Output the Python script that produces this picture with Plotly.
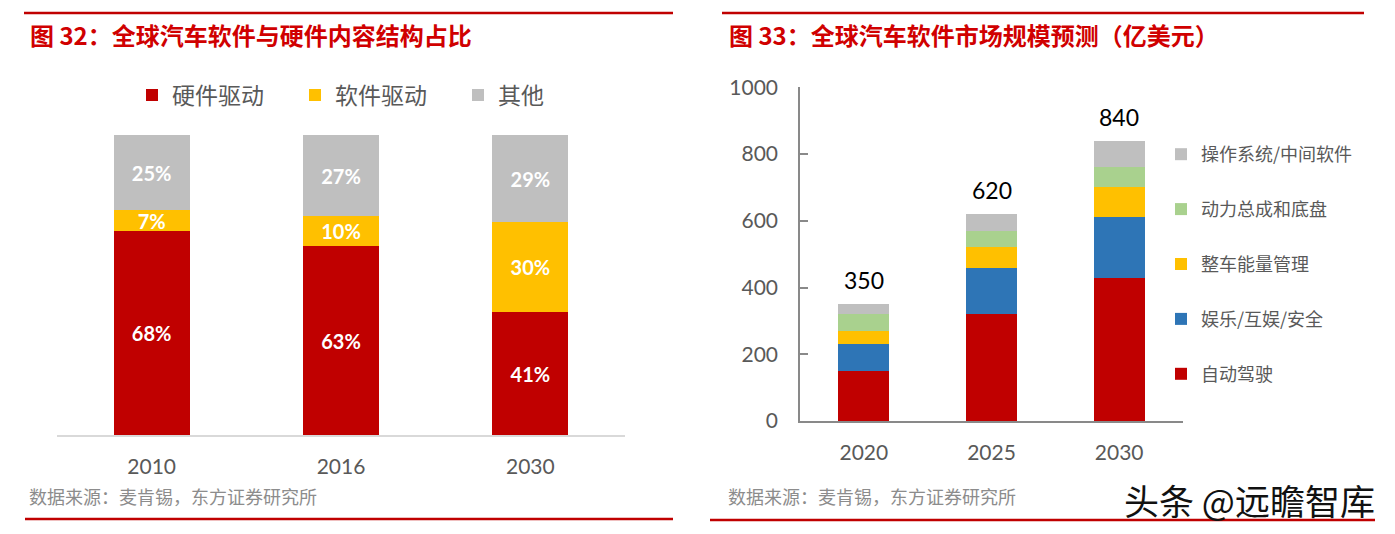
import plotly.graph_objects as go

W, H = 1395, 534

# ---------------- data ----------------
left_years = ["2010", "2016", "2030"]
hw_driven = [68, 63, 41]
sw_driven = [7, 10, 30]
others = [25, 27, 29]
left_names = ["硬件驱动", "软件驱动", "其他"]

right_years = ["2020", "2025", "2030"]
autonomous = [150, 320, 430]
infotainment = [80, 140, 180]
energy_mgmt = [40, 60, 90]
powertrain = [50, 50, 60]
os_middleware = [30, 50, 80]
totals = [350, 620, 840]
right_names = ["自动驾驶", "娱乐/互娱/安全", "整车能量管理", "动力总成和底盘", "操作系统/中间软件"]

RED = "#C00000"
YEL = "#FFC000"
GRY = "#BFBFBF"
BLU = "#2E75B6"
GRN = "#A9D18E"
TXT = "#595959"

NUM = "Lato, 'Noto Sans CJK SC', sans-serif"
CJK = "'Noto Sans CJK SC', sans-serif"


def px(x):
    return x / W


def py(y):
    return 1 - y / H


fig = go.Figure()

# ---------------- left chart ----------------
for vals, name, col in zip([hw_driven, sw_driven, others], left_names, [RED, YEL, GRY]):
    fig.add_trace(go.Bar(
        x=left_years, y=vals, name=name, marker_color=col, marker_line_width=0,
        xaxis="x", yaxis="y", legend="legend",
        texttemplate="%{y}%", textposition="inside", insidetextanchor="middle",
        textfont=dict(color="white", size=20, family=NUM, weight="bold"),
        constraintext="none", hoverinfo="skip",
    ))

# ---------------- right chart ----------------
series = [autonomous, infotainment, energy_mgmt, powertrain, os_middleware]
colors = [RED, BLU, YEL, GRN, GRY]
for i, (vals, name, col) in enumerate(zip(series, right_names, colors)):
    fig.add_trace(go.Bar(
        x=right_years, y=vals, name=name, marker_color=col, marker_line_width=0,
        xaxis="x2", yaxis="y2", legend="legend2", legendgroup=name,
        legendrank=len(series) - i, hoverinfo="skip",
    ))

for i, tot in enumerate(totals):
    fig.add_annotation(x=i, y=tot, xref="x2", yref="y2", text=str(tot),
                       showarrow=False, yshift=24, yanchor="middle",
                       font=dict(size=23, color="black", family=NUM))

fig.update_layout(
    width=W, height=H,
    margin=dict(l=0, r=0, t=0, b=0, autoexpand=False),
    paper_bgcolor="white", plot_bgcolor="white",
    barmode="stack", bargap=0.6,
    uniformtext=dict(minsize=20, mode="show"),
    font=dict(family=NUM, color=TXT),
    xaxis=dict(domain=[px(57), px(625)], type="category", range=[-0.5, 2.5], showgrid=False,
               showline=True, linecolor="#D9D9D9", linewidth=2, ticks="",
               tickfont=dict(size=21, color=TXT, family=NUM), ticklabelstandoff=12,
               anchor="y", automargin=False),
    yaxis=dict(domain=[py(435), py(135)], range=[0, 100], visible=False,
               anchor="x"),
    xaxis2=dict(domain=[px(800), px(1183)], type="category", range=[-0.5, 2.5], showgrid=False,
                showline=True, linecolor="#898989", linewidth=1.5, ticks="",
                tickfont=dict(size=21, color=TXT, family=NUM), ticklabelstandoff=12,
                anchor="y2", automargin=False),
    yaxis2=dict(domain=[py(421), py(87.3)], range=[0, 1000], showgrid=False,
                showline=True, linecolor="#898989", linewidth=1.5,
                ticks="inside", ticklen=8, tickcolor="#898989", tickwidth=1.5,
                tickvals=[0, 200, 400, 600, 800, 1000],
                tickfont=dict(size=21, color=TXT, family=NUM), ticklabelstandoff=16,
                anchor="x2", zeroline=False, automargin=False),
    legend=dict(orientation="h", x=px(132), y=py(95), xanchor="left", yanchor="middle",
                font=dict(size=23, color=TXT, family=CJK), entrywidth=118,
                bgcolor="rgba(0,0,0,0)", traceorder="normal"),
    legend2=dict(orientation="v", x=px(1161), y=py(136), xanchor="left", yanchor="top",
                 font=dict(size=18, color=TXT, family=CJK), tracegroupgap=28.5,
                 bgcolor="rgba(0,0,0,0)", traceorder="grouped"),
)

# ---------------- decorations ----------------
for x0, x1, y in [(24, 673, 13), (722, 1364, 13), (25, 673, 519), (710, 1375, 520)]:
    fig.add_shape(type="line", xref="paper", yref="paper",
                  x0=px(x0), x1=px(x1), y0=py(y), y1=py(y),
                  line=dict(color=RED, width=2.5))

fig.add_annotation(x=px(28), y=py(34), xref="paper", yref="paper", xanchor="left", yanchor="middle",
                   text="<b>图 32：全球汽车软件与硬件内容结构占比</b>", showarrow=False,
                   font=dict(size=24, color="#D00000", family=CJK))
fig.add_annotation(x=px(727), y=py(34), xref="paper", yref="paper", xanchor="left", yanchor="middle",
                   text="<b>图 33：全球汽车软件市场规模预测（亿美元）</b>", showarrow=False,
                   font=dict(size=24, color="#D00000", family=CJK))

for x in [27, 726]:
    fig.add_annotation(x=px(x), y=py(496), xref="paper", yref="paper", xanchor="left", yanchor="middle",
                       text="数据来源：麦肯锡，东方证券研究所", showarrow=False,
                       font=dict(size=18, color="#8C8C8C", family=CJK))

fig.add_annotation(x=px(1122), y=py(499), xref="paper", yref="paper", xanchor="left", yanchor="middle",
                   text="头条 @远瞻智库", showarrow=False,
                   font=dict(size=35, color="#111111", family=CJK))

fig.write_html("out.html", config={"displayModeBar": False},
               post_script="document.body.style.margin='0px';document.body.style.overflow='hidden';")
